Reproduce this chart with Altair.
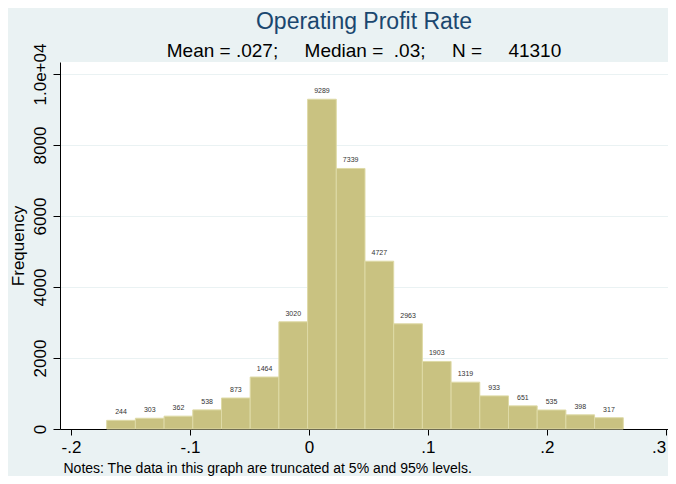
import altair as alt
import pandas as pd

# Histogram data
counts = [244, 303, 362, 538, 873, 1464, 3020, 9289, 7339, 4727,
          2963, 1903, 1319, 933, 651, 535, 398, 317]
bin_start = -0.1700
bin_width = 0.02413

x_ticks = [-0.2, -0.1, 0.0, 0.1, 0.2, 0.3]
y_ticks = [0, 2000, 4000, 6000, 8000, 10000]

title_text = "Operating Profit Rate"
subtitle_text = ("Mean = .027;\u00a0\u00a0\u00a0\u00a0 Median =\u00a0 .03;"
                 "\u00a0\u00a0\u00a0\u00a0 N =\u00a0\u00a0\u00a0\u00a0 41310")
notes_text = "Notes: The data in this graph are truncated at 5% and 95% levels."

df = pd.DataFrame({"count": counts})
df["x0"] = [bin_start + i * bin_width for i in range(len(counts))]
df["x1"] = df["x0"] + bin_width
df["mid"] = (df["x0"] + df["x1"]) / 2
df["zero"] = 0

FONT = "Liberation Sans, Arial, Helvetica, sans-serif"
BG = "#EAF2F3"
BAR = "#C9C281"
NAVY = "#1A476F"

xscale = alt.Scale(domain=[-0.20925, 0.30193], nice=False, zero=False)
yscale = alt.Scale(domain=[0, 10338], nice=False)

x_axis = alt.Axis(
    values=x_ticks,
    labelExpr=("datum.value == 0 ? '0' : "
               "replace(replace(format(datum.value, '.1f'), '\u2212', '-'), '0.', '.')"),
    labelAlign={"expr": "datum.value > 0.25 ? 'right' : 'center'"},
    grid=False, domainColor="black", tickColor="black", tickSize=6,
    labelFontSize=17, labelColor="black", labelFont=FONT, labelPadding=4,
    labelBound=False, labelOverlap=False,
    title=notes_text, titleFont=FONT, titleFontSize=14, titleFontWeight="normal",
    titleColor="black", titleAnchor="start", titleAlign="left",
    titleX=3, titleY=43, titleBaseline="alphabetic",
)
y_axis = alt.Axis(
    values=y_ticks,
    labelExpr="datum.value == 10000 ? '1.0e+04' : format(datum.value, 'd')",
    labelAngle=270, labelAlign="center", labelBaseline="bottom",
    grid=True, gridColor=BG, gridWidth=1,
    domainColor="black", tickColor="black", tickSize=7,
    labelFontSize=17, labelColor="black", labelFont=FONT, labelPadding=4,
    labelOverlap=False,
    title="Frequency", titleFont=FONT, titleFontSize=17, titleFontWeight="normal",
    titleColor="black", titlePadding=4,
)

base = alt.Chart(df)
bars = base.mark_rect(fill=BAR, stroke="#DEDAA6", strokeWidth=1).encode(
    x=alt.X("x0:Q", scale=xscale, axis=x_axis),
    x2="x1:Q",
    y=alt.Y("count:Q", scale=yscale, axis=y_axis),
    y2="zero:Q",
)
labels = base.mark_text(fontSize=7, font=FONT, color="#333333",
                        baseline="bottom", dy=-5).encode(
    x=alt.X("mid:Q", scale=xscale),
    y=alt.Y("count:Q", scale=yscale),
    text=alt.Text("count:Q", format="d"),
)

chart = alt.layer(bars, labels).properties(
    width=608, height=367,
    autosize=alt.AutoSizeParams(type="none"),
    padding={"left": 52, "top": 54, "right": 0, "bottom": 47},
    title=alt.TitleParams(
        title_text, subtitle=subtitle_text, anchor="middle",
        font=FONT, fontSize=23, fontWeight="normal", color=NAVY,
        subtitleFont=FONT, subtitleFontSize=19, subtitleColor="black",
        subtitlePadding=8, offset=-18,
    ),
).configure(background=BG).configure_view(stroke=None, fill="white")

chart.save("out.html", embed_options={"renderer": "svg", "actions": False})
